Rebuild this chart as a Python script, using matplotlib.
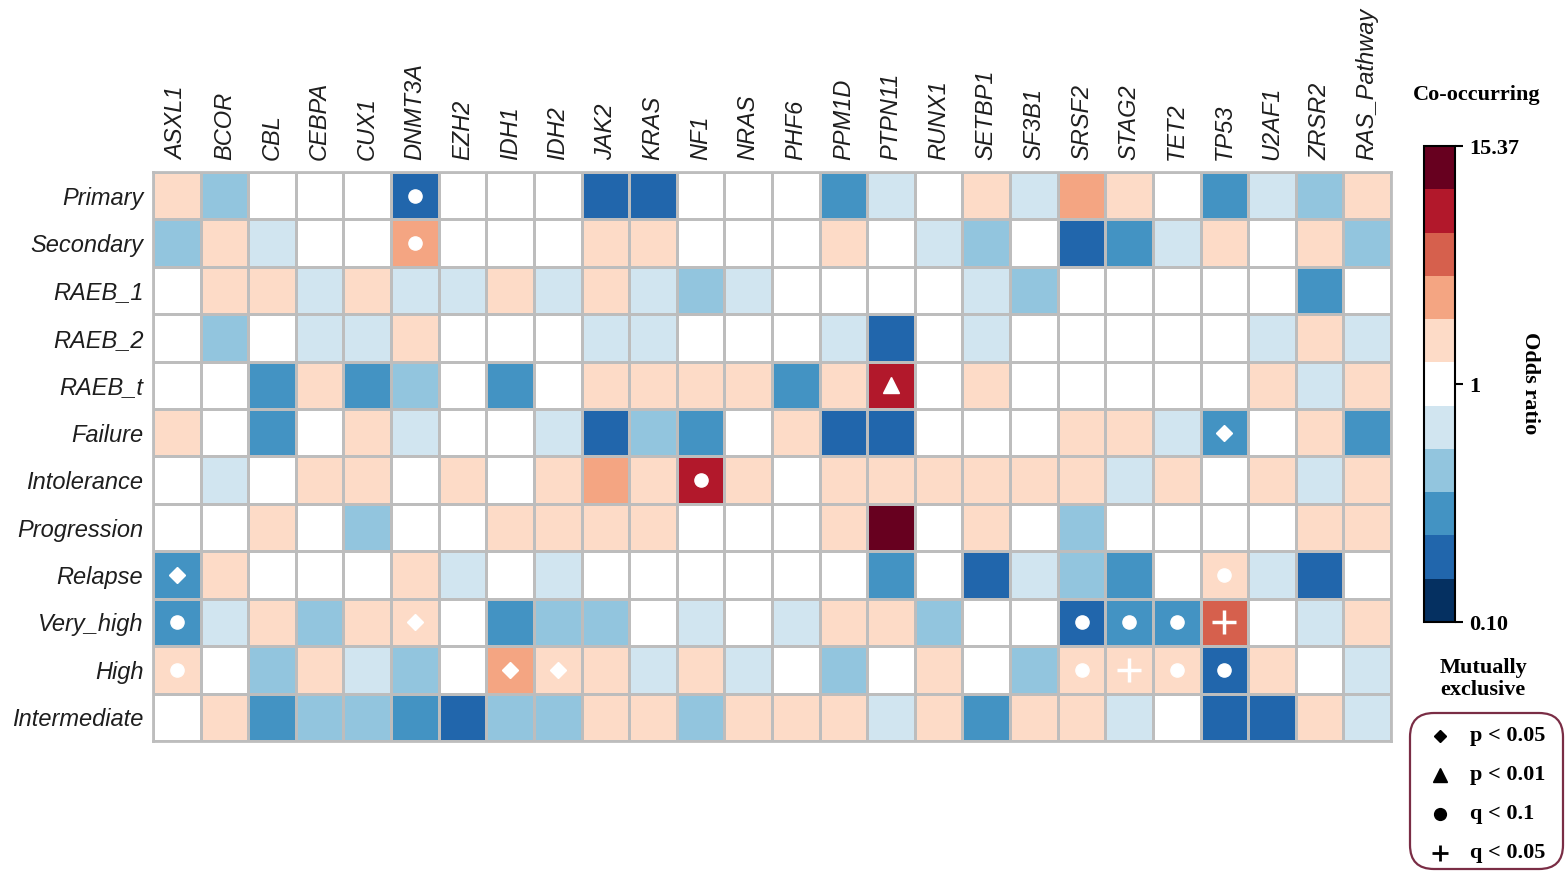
import numpy as np
import matplotlib.pyplot as plt
from matplotlib.colors import ListedColormap, TwoSlopeNorm
from matplotlib.patches import FancyBboxPatch

genes = ['ASXL1', 'BCOR', 'CBL', 'CEBPA', 'CUX1', 'DNMT3A', 'EZH2', 'IDH1', 'IDH2',
         'JAK2', 'KRAS', 'NF1', 'NRAS', 'PHF6', 'PPM1D', 'PTPN11', 'RUNX1', 'SETBP1',
         'SF3B1', 'SRSF2', 'STAG2', 'TET2', 'TP53', 'U2AF1', 'ZRSR2', 'RAS_Pathway']
groups = ['Primary', 'Secondary', 'RAEB_1', 'RAEB_2', 'RAEB_t', 'Failure',
          'Intolerance', 'Progression', 'Relapse', 'Very_high', 'High', 'Intermediate']

# odds ratio of each gene vs. each clinical group
odds_ratio = np.array([
    [1.52, 0.44, 1.00, 1.00, 1.00, 0.19, 1.00, 1.00, 1.00, 0.18, 0.20, 1.00, 1.00,
     1.00, 0.28, 0.66, 1.00, 1.48, 0.70, 2.74, 1.61, 1.00, 0.30, 0.72, 0.45, 1.43],
    [0.46, 1.55, 0.69, 1.00, 1.00, 2.62, 1.00, 1.00, 1.00, 1.71, 1.64, 1.00, 1.00,
     1.00, 1.58, 1.00, 0.71, 0.43, 1.00, 0.19, 0.27, 0.66, 1.47, 1.00, 1.66, 0.47],
    [1.00, 1.62, 1.58, 0.68, 1.49, 0.72, 0.70, 1.53, 0.67, 1.66, 0.71, 0.44, 0.69,
     1.00, 1.00, 1.00, 1.00, 0.73, 0.42, 1.00, 1.00, 1.00, 1.00, 1.00, 0.26, 1.00],
    [1.00, 0.41, 1.00, 0.70, 0.68, 1.45, 1.00, 1.00, 1.00, 0.72, 0.66, 1.00, 1.00,
     1.00, 0.69, 0.18, 1.00, 0.71, 1.00, 1.00, 1.00, 1.00, 1.00, 0.67, 1.59, 0.74],
    [1.00, 1.00, 0.29, 1.56, 0.27, 0.45, 1.00, 0.28, 1.00, 1.61, 1.52, 1.70, 1.49,
     0.30, 1.63, 7.85, 1.00, 1.58, 1.00, 1.00, 1.00, 1.00, 1.00, 1.54, 0.70, 1.46],
    [1.51, 1.00, 0.27, 1.00, 1.44, 0.70, 1.00, 1.00, 0.68, 0.17, 0.43, 0.28, 1.00,
     1.57, 0.19, 0.18, 1.00, 1.00, 1.00, 1.62, 1.48, 0.67, 0.26, 1.00, 1.55, 0.29],
    [1.00, 0.69, 1.00, 1.52, 1.47, 1.00, 1.58, 1.00, 1.63, 2.85, 1.55, 7.20, 1.49,
     1.00, 1.61, 1.54, 1.46, 1.59, 1.66, 1.50, 0.71, 1.57, 1.00, 1.45, 0.68, 1.53],
    [1.00, 1.00, 1.48, 1.00, 0.44, 1.00, 1.00, 1.57, 1.62, 1.51, 1.59, 1.00, 1.00,
     1.00, 1.55, 15.37, 1.00, 1.50, 1.00, 0.42, 1.00, 1.00, 1.00, 1.00, 1.64, 1.47],
    [0.27, 1.58, 1.00, 1.00, 1.00, 1.52, 0.70, 1.00, 0.67, 1.00, 1.00, 1.00, 1.00,
     1.00, 1.00, 0.29, 1.00, 0.19, 0.72, 0.44, 0.28, 1.00, 1.61, 0.69, 0.18, 1.00],
    [0.28, 0.70, 1.55, 0.43, 1.49, 1.60, 1.00, 0.27, 0.45, 0.42, 1.00, 0.68, 1.00,
     0.71, 1.53, 1.46, 0.44, 1.00, 1.00, 0.18, 0.29, 0.30, 4.65, 1.00, 0.66, 1.58],
    [1.63, 1.00, 0.43, 1.51, 0.69, 0.46, 1.00, 2.71, 1.57, 1.48, 0.72, 1.54, 0.67,
     1.00, 0.41, 1.00, 1.60, 1.00, 0.44, 1.52, 1.59, 1.47, 0.19, 1.56, 1.00, 0.70],
    [1.00, 1.53, 0.28, 0.45, 0.43, 0.27, 0.18, 0.44, 0.46, 1.58, 1.50, 0.42, 1.61,
     1.55, 1.49, 0.68, 1.57, 0.29, 1.63, 1.52, 0.70, 1.00, 0.19, 0.17, 1.46, 0.69],
])

# significant cells: (group, gene, test)
significant = [
    ('Primary', 'DNMT3A', 'q10'), ('Secondary', 'DNMT3A', 'q10'),
    ('RAEB_t', 'PTPN11', 'p01'), ('Failure', 'TP53', 'p05'),
    ('Intolerance', 'NF1', 'q10'), ('Relapse', 'ASXL1', 'p05'),
    ('Relapse', 'TP53', 'q10'), ('Very_high', 'ASXL1', 'q10'),
    ('Very_high', 'DNMT3A', 'p05'), ('Very_high', 'SRSF2', 'q10'),
    ('Very_high', 'STAG2', 'q10'), ('Very_high', 'TET2', 'q10'),
    ('Very_high', 'TP53', 'q05'), ('High', 'ASXL1', 'q10'),
    ('High', 'IDH1', 'p05'), ('High', 'IDH2', 'p05'),
    ('High', 'SRSF2', 'q10'), ('High', 'STAG2', 'q05'),
    ('High', 'TET2', 'q10'), ('High', 'TP53', 'q10'),
]
test_labels = {'p05': 'p < 0.05', 'p01': 'p < 0.01', 'q10': 'q < 0.1', 'q05': 'q < 0.05'}

or_min, or_max = 0.10, 15.37

marker_style = {
    'p05': dict(marker='D', ms=8),
    'p01': dict(marker='^', ms=12),
    'q10': dict(marker='o', ms=9.5),
    'q05': dict(marker='+', ms=17, mew=2.5),
}
legend_style = {
    'p05': dict(marker='D', ms=6.5),
    'p01': dict(marker='^', ms=10),
    'q10': dict(marker='o', ms=8.5),
    'q05': dict(marker='+', ms=12, mew=2),
}

rdbu = ['#053061', '#2166ac', '#4393c3', '#92c5de', '#d1e5f0', '#ffffff',
        '#fddbc7', '#f4a582', '#d6604d', '#b2182b', '#67001f']
cmap = ListedColormap(rdbu)
norm = TwoSlopeNorm(vmin=np.log10(or_min), vcenter=0.0, vmax=np.log10(or_max))

sans = ['Liberation Sans', 'DejaVu Sans']
serif = ['Liberation Serif', 'DejaVu Serif']

fig = plt.figure(figsize=(15.66, 8.72), dpi=100)
ax = fig.add_axes([153 / 1566, 1 - 741 / 872, 1238 / 1566, 569 / 872])

mesh = ax.pcolormesh(np.log10(odds_ratio), cmap=cmap, norm=norm,
                     edgecolors='#bdbdbd', linewidth=2)
ax.set_xlim(0, len(genes))
ax.set_ylim(len(groups), 0)
for s in ax.spines.values():
    s.set_edgecolor('#bdbdbd')
    s.set_linewidth(2)

ax.xaxis.tick_top()
ax.set_xticks(np.arange(len(genes)) + 0.5)
ax.set_xticklabels(genes, rotation=90, fontsize=17, style='italic',
                   family=sans, color='#1e1e1e')
ax.set_yticks(np.arange(len(groups)) + 0.5)
ax.set_yticklabels(groups, fontsize=17, style='italic', family=sans, color='#1e1e1e')
ax.tick_params(axis='x', length=0, pad=9)
ax.tick_params(axis='y', length=0, pad=7)

for grp, gene, test in significant:
    ax.plot(genes.index(gene) + 0.5, groups.index(grp) + 0.5, color='white',
            mec='white', ls='none', **marker_style[test])

# colour bar
cax = fig.add_axes([1424 / 1566, 1 - 622 / 872, 31 / 1566, 476 / 872])
cb = fig.colorbar(mesh, cax=cax,
                  ticks=[np.log10(or_min), 0.0, np.log10(or_max)])
cb.set_ticklabels([f'{or_min:.2f}', '1', f'{or_max:.2f}'])
cb.outline.set_linewidth(1.5)
cb.outline.set_edgecolor('black')
cax.tick_params(length=6, width=1.5, pad=4, labelsize=16)
for t in cax.get_yticklabels():
    t.set_family(serif)
    t.set_weight('bold')

fig.text(1530 / 1566, 1 - 383 / 872, 'Odds ratio', rotation=270, ha='center',
         va='center', fontsize=16, weight='bold', family=serif)
fig.text(1477 / 1566, 1 - 95 / 872, 'Co-occurring', ha='center', va='center',
         fontsize=16, weight='bold', family=serif)
fig.text(1483 / 1566, 1 - 679 / 872, 'Mutually\nexclusive', ha='center',
         va='center', fontsize=16, weight='bold', family=serif, linespacing=1.15)

# legend for the significance symbols, laid out in pixel units
lax = fig.add_axes([0, 0, 1, 1])
lax.set_xlim(0, 1566)
lax.set_ylim(872, 0)
lax.axis('off')
lax.add_patch(FancyBboxPatch((1410, 713), 153, 156,
                             boxstyle='round,pad=0,rounding_size=24',
                             fc='none', ec='#7a2d45', lw=1.6))
for i, test in enumerate(['p05', 'p01', 'q10', 'q05']):
    y = 736 + i * 39
    lax.plot(1440, y, color='black', ls='none', **legend_style[test])
    lax.text(1470, y, test_labels[test], ha='left', va='center', fontsize=16,
             weight='bold', family=serif)

fig.savefig('out.png', dpi=100)
